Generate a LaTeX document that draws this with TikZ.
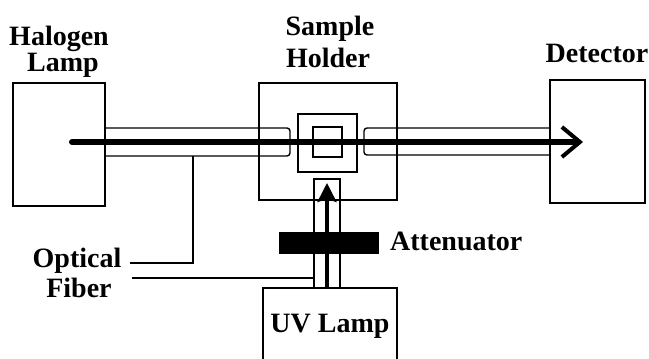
\documentclass[tikz,border=0pt]{standalone}
\usepackage{fontspec}
\setmainfont{Liberation Serif}
\usetikzlibrary{arrows.meta}
\tikzset{
  box/.style={draw,line width=1.4pt,inner sep=0pt},
  lbl/.style={font=\fontsize{28}{28}\selectfont\bfseries,inner sep=0pt,anchor=base},
  fiber/.style={line width=1.4pt,rounded corners=3pt},
  lead/.style={line width=1.4pt},
}
\begin{document}
\begin{tikzpicture}[x=1pt,y=-1pt]
\clip (0,0) rectangle (649,359);
\fill[white] (0,0) rectangle (649,359);

\node[box,minimum width=92pt,minimum height=123pt] (halogen) at (59,144.5) {};
\node[box,minimum width=138pt,minimum height=117pt] (holder) at (328,141.5) {};
\node[box,minimum width=59pt,minimum height=58pt] (cell) at (327.5,143) {};
\node[box,minimum width=29pt,minimum height=30pt] (cuvette) at (327.5,142) {};
\node[box,minimum width=95pt,minimum height=123pt] (detector) at (597.5,141.5) {};
\node[box,minimum width=134pt,minimum height=80pt] (uvlamp) at (330,328) {};
\node[fill=black,inner sep=0pt,minimum width=100pt,minimum height=22pt] (atten) at (329,243) {};

\draw[fiber] (105,128) -- (290,128) -- (290,156) -- (105,156);
\draw[fiber] (550,128) -- (364,128) -- (364,155) -- (550,155);
\draw[lead] (314,288) -- (314,179) -- (340,179) -- (340,288);

\coordinate (src) at (72,142);
\coordinate (tip) at (583,142);
\coordinate (uvtip) at (327,183);
\draw[line width=6pt,line cap=round,-{Straight Barb[length=18pt,width=30pt,line width=4pt]}] (src) -- (tip);
\draw[line width=3.5pt,-{Stealth[length=19pt,width=19pt,inset=3pt]}] (uvlamp.north -| uvtip) -- (uvtip);

\node[lbl] (halogen-a) at (59,45) {Halogen};
\node[lbl] (halogen-b) at (63,71) {Lamp};
\node[lbl] (holder-a) at (330,35) {Sample};
\node[lbl] (holder-b) at (328,67) {Holder};
\node[lbl] (detector-a) at (597,62) {Detector};
\node[lbl,anchor=base west] (atten-a) at (390,250) {Attenuator};
\node[lbl] (fiber-a) at (77,267) {Optical};
\node[lbl] (fiber-b) at (79,297) {Fiber};
\node[lbl] (uvlamp-a) at (330,332) {UV Lamp};

\coordinate (lead1) at (130,263);
\coordinate (tap1) at (193,156);
\coordinate (lead2) at (132,278);
\coordinate (tap2) at (314,278);
\draw[lead] (lead1) -| (tap1);
\draw[lead] (lead2) -- (tap2);
\end{tikzpicture}
\end{document}
